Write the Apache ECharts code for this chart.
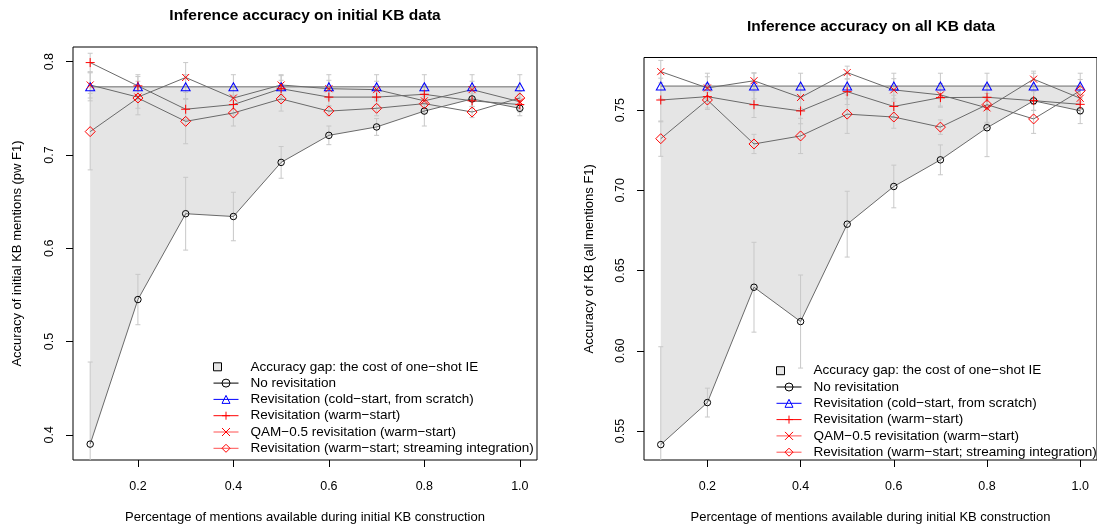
<!DOCTYPE html>
<html>
<head>
<meta charset="utf-8">
<script src="https://cdn.jsdelivr.net/npm/echarts@6/dist/echarts.min.js"></script>
<style>
    html, body { margin: 0; padding: 0; background: #fff; }
    #main { width: 1097px; height: 529px; }
</style>
</head>
<body>
<div id="main"></div>
<script>
    // fraction of mentions available during initial KB construction
    var xs = [0.1, 0.2, 0.3, 0.4, 0.5, 0.6, 0.7, 0.8, 0.9, 1.0];
    var xTicks = [0.2, 0.4, 0.6, 0.8, 1.0];

    var seriesNames = [
        'No revisitation',
        'Revisitation (cold\u2212start, from scratch)',
        'Revisitation (warm\u2212start)',
        'QAM\u22120.5 revisitation (warm\u2212start)',
        'Revisitation (warm\u2212start; streaming integration)'
    ];
    var gapName = 'Accuracy gap: the cost of one\u2212shot IE';

    // left panel: initial KB data (pw F1)
    var initNoRev = [0.390, 0.545, 0.637, 0.634, 0.692, 0.721, 0.730, 0.747, 0.760, 0.750];
    var initCold = [0.773, 0.773, 0.773, 0.773, 0.773, 0.773, 0.773, 0.773, 0.773, 0.773];
    var initWarm = [0.799, 0.774, 0.749, 0.754, 0.771, 0.762, 0.762, 0.765, 0.758, 0.754];
    var initQam = [0.775, 0.762, 0.783, 0.761, 0.775, 0.771, 0.770, 0.758, 0.770, 0.757];
    var initStream = [0.725, 0.761, 0.736, 0.745, 0.760, 0.747, 0.750, 0.755, 0.746, 0.761];
    // half widths of the error bars
    var initNoRevErr = [0.088, 0.027, 0.039, 0.026, 0.017, 0.010, 0.009, 0.016, 0.008, 0.008];
    var initColdErr = [0.015, 0.013, 0.013, 0.013, 0.013, 0.013, 0.013, 0.013, 0.013, 0.013];
    var initWarmErr = [0.010, 0.010, 0.011, 0.010, 0.009, 0.009, 0.008, 0.010, 0.008, 0.008];
    var initQamErr = [0.014, 0.012, 0.016, 0.012, 0.010, 0.009, 0.009, 0.010, 0.009, 0.008];
    var initStreamErr = [0.041, 0.018, 0.024, 0.014, 0.013, 0.005, 0.008, 0.010, 0.006, 0.007];
    var initTicks = [0.4, 0.5, 0.6, 0.7, 0.8];

    // right panel: all KB data (all mentions F1)
    var allNoRev = [0.5415, 0.5677, 0.6396, 0.6182, 0.6789, 0.7024, 0.7190, 0.7390, 0.7558, 0.7496];
    var allCold = [0.765, 0.765, 0.765, 0.765, 0.765, 0.765, 0.765, 0.765, 0.765, 0.765];
    var allWarm = [0.7563, 0.7584, 0.7534, 0.7495, 0.7615, 0.7523, 0.7578, 0.7580, 0.7559, 0.7536];
    var allQam = [0.7740, 0.7638, 0.7683, 0.7579, 0.7734, 0.7626, 0.7595, 0.7514, 0.7693, 0.7574];
    var allStream = [0.7322, 0.7563, 0.7289, 0.7339, 0.7475, 0.7457, 0.7394, 0.7534, 0.7445, 0.7621];
    var allNoRevErr = [0.061, 0.009, 0.028, 0.029, 0.0205, 0.0133, 0.0093, 0.018, 0.006, 0.008];
    var allColdErr = [0.008, 0.008, 0.008, 0.008, 0.008, 0.008, 0.008, 0.008, 0.008, 0.008];
    var allWarmErr = [0.0136, 0.008, 0.008, 0.008, 0.008, 0.007, 0.006, 0.008, 0.006, 0.006];
    var allQamErr = [0.007, 0.007, 0.005, 0.007, 0.004, 0.007, 0.007, 0.009, 0.005, 0.007];
    var allStreamErr = [0.011, 0.005, 0.006, 0.011, 0.012, 0.007, 0.0045, 0.012, 0.009, 0.007];
    var allTicks = [0.55, 0.60, 0.65, 0.70, 0.75];

    var FONT = '"Liberation Sans", Arial, Helvetica, sans-serif';
    var LINE_GRAY = '#6a6a6a';

    var symbols = [
        {symbol: 'circle', size: 6.5, color: '#000000'},
        {symbol: 'triangle', size: [9, 8], color: '#0000ff'},
        {symbol: 'path://M5,0V10M0,5H10', size: 9, color: '#ff0000'},
        {symbol: 'path://M0,0L10,10M10,0L0,10', size: 7, color: '#ff0000'},
        {symbol: 'diamond', size: 10, color: '#ff0000'}
    ];
    var legendLineColors = ['#000000', '#0000ff', '#ff0000', '#ff5050', '#ff5050'];

    function pairs(vals) {
        return xs.map(function (x, i) { return [x, vals[i]]; });
    }

    function errData(vals, errs) {
        return xs.map(function (x, i) { return [x, vals[i] - errs[i], vals[i] + errs[i]]; });
    }

    function renderErrorBar(params, api) {
        var x = api.value(0);
        var lo = api.coord([x, api.value(1)]);
        var hi = api.coord([x, api.value(2)]);
        var cs = params.coordSys;
        var yTop = Math.max(hi[1], cs.y);
        var yBot = Math.min(lo[1], cs.y + cs.height);
        var style = {stroke: '#c8c8c8', lineWidth: 1};
        var children = [{type: 'line', shape: {x1: lo[0], y1: yTop, x2: lo[0], y2: yBot}, style: style}];
        if (hi[1] >= cs.y) {
            children.push({type: 'line', shape: {x1: lo[0] - 2.5, y1: hi[1], x2: lo[0] + 2.5, y2: hi[1]}, style: style});
        }
        if (lo[1] <= cs.y + cs.height) {
            children.push({type: 'line', shape: {x1: lo[0] - 2.5, y1: lo[1], x2: lo[0] + 2.5, y2: lo[1]}, style: style});
        }
        return {type: 'group', children: children};
    }

    function gapRenderer(upper, lower) {
        return function (params, api) {
            if (params.dataIndex !== 0) {
                return;
            }
            var pts = [];
            xs.forEach(function (x, i) { pts.push(api.coord([x, upper[i]])); });
            for (var i = xs.length - 1; i >= 0; i--) {
                pts.push(api.coord([xs[i], lower[i]]));
            }
            return {type: 'polygon', shape: {points: pts}, style: {fill: '#e5e5e5', stroke: null}};
        };
    }

    function panelSeries(idx, vals, errs) {
        var out = [];
        out.push({
            name: gapName,
            type: 'custom',
            xAxisIndex: idx,
            yAxisIndex: idx,
            z: 1,
            silent: true,
            itemStyle: {color: '#e5e5e5'},
            renderItem: gapRenderer(vals[1], vals[0]),
            data: pairs(vals[1])
        });
        vals.forEach(function (v, k) {
            out.push({
                name: seriesNames[k] + ' err',
                type: 'custom',
                xAxisIndex: idx,
                yAxisIndex: idx,
                z: 2,
                silent: true,
                renderItem: renderErrorBar,
                data: errData(v, errs[k])
            });
        });
        vals.forEach(function (v, k) {
            out.push({
                name: seriesNames[k],
                type: 'line',
                xAxisIndex: idx,
                yAxisIndex: idx,
                z: 3,
                silent: true,
                symbol: symbols[k].symbol,
                symbolSize: symbols[k].size,
                showAllSymbol: true,
                itemStyle: {color: 'none', borderColor: symbols[k].color, borderWidth: 1},
                lineStyle: {color: LINE_GRAY, width: 1},
                data: pairs(v)
            });
        });
        return out;
    }

    function legendData() {
        var items = [{
            name: gapName,
            icon: 'path://M0,1h8v8h-8zM25,0M25,10',
            itemStyle: {color: '#e5e5e5', borderColor: '#000', borderWidth: 1}
        }];
        seriesNames.forEach(function (n, k) {
            items.push({
                name: n,
                lineStyle: {color: legendLineColors[k], width: 1},
                itemStyle: {color: 'none', borderColor: symbols[k].color, borderWidth: 1}
            });
        });
        return items;
    }

    function legend(left, top) {
        return {
            orient: 'vertical',
            left: left,
            top: top,
            padding: 0,
            itemWidth: 25,
            itemHeight: 10,
            itemGap: 2.3,
            selectedMode: false,
            textStyle: {fontFamily: FONT, fontSize: 13.5, color: '#000', padding: [0, 0, 0, 7]},
            data: legendData()
        };
    }

    function xAxis(idx) {
        return {
            type: 'value',
            gridIndex: idx,
            min: 0.064,
            max: 1.036,
            axisLine: {show: false, onZero: false},
            axisTick: {show: true, length: 7, lineStyle: {color: '#000'}, customValues: xTicks},
            axisLabel: {
                customValues: xTicks, margin: 20, color: '#000', fontSize: 12.5, fontFamily: FONT,
                formatter: function (v) { return v.toFixed(1); }
            },
            splitLine: {show: false},
            name: 'Percentage of mentions available during initial KB construction',
            nameLocation: 'middle',
            nameGap: 51,
            nameTextStyle: {color: '#000', fontSize: 13, fontFamily: FONT}
        };
    }

    function yAxis(idx, min, max, ticks, digits, name, gap) {
        return {
            type: 'value',
            gridIndex: idx,
            min: min,
            max: max,
            axisLine: {show: false, onZero: false},
            axisTick: {show: true, length: 7, lineStyle: {color: '#000'}, customValues: ticks},
            axisLabel: {
                customValues: ticks, rotate: 90, margin: 17, color: '#000', fontSize: 12.5, fontFamily: FONT,
                formatter: function (v) { return v.toFixed(digits); }
            },
            splitLine: {show: false},
            name: name,
            nameLocation: 'middle',
            nameGap: gap,
            nameTextStyle: {color: '#000', fontSize: 13, fontFamily: FONT}
        };
    }

    var chart = echarts.init(document.getElementById('main'));

    var option = {
        animation: false,
        backgroundColor: '#fff',
        textStyle: {fontFamily: FONT},
        title: [
            {text: 'Inference accuracy on initial KB data', left: 305, top: 7.5, padding: 0, textAlign: 'center',
                textStyle: {fontSize: 15.5, fontWeight: 'bold', color: '#000', fontFamily: FONT}},
            {text: 'Inference accuracy on all KB data', left: 871, top: 18.5, padding: 0, textAlign: 'center',
                textStyle: {fontSize: 15.5, fontWeight: 'bold', color: '#000', fontFamily: FONT}}
        ],
        grid: [
            {left: 73, top: 47, width: 464, height: 416, show: true, borderColor: '#000', borderWidth: 1},
            {left: 644, top: 57.5, width: 455, height: 406.5, show: true, borderColor: '#000', borderWidth: 1}
        ],
        xAxis: [xAxis(0), xAxis(1)],
        yAxis: [
            yAxis(0, 0.373, 0.8157, initTicks, 1, 'Accuracy of initial KB mentions (pw F1)', 49),
            yAxis(1, 0.5319, 0.7828, allTicks, 2, 'Accuracy of KB (all mentions F1)', 48)
        ],
        legend: [legend(213, 359.8), legend(776, 363.7)],
        series: [].concat(
            panelSeries(0,
                [initNoRev, initCold, initWarm, initQam, initStream],
                [initNoRevErr, initColdErr, initWarmErr, initQamErr, initStreamErr]),
            panelSeries(1,
                [allNoRev, allCold, allWarm, allQam, allStream],
                [allNoRevErr, allColdErr, allWarmErr, allQamErr, allStreamErr])
        )
    };

    chart.setOption(option);
</script>
</body>
</html>
